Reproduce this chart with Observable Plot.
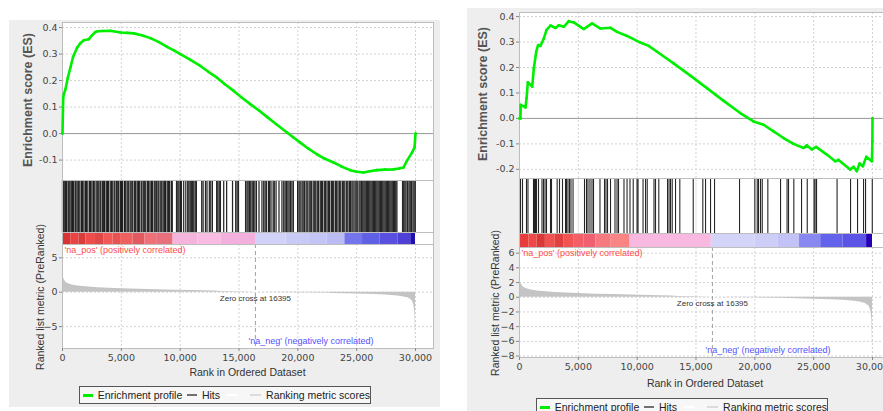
<!DOCTYPE html>
<html>
<head>
<meta charset="utf-8">
<script src="https://cdn.jsdelivr.net/npm/d3@7"></script>
<script src="https://cdn.jsdelivr.net/npm/@observablehq/plot@0.6"></script>
<style>
html, body { margin: 0; padding: 0; background: #ffffff; }
#root { position: relative; width: 883px; height: 411px; overflow: hidden; background: #ffffff; font-family: "Liberation Sans", Arial, sans-serif; }
.bg { position: absolute; background: #eeeeee; }
.lbl { position: absolute; white-space: nowrap; transform: translate(-50%, -50%); color: #333; }
.legend { position: absolute; height: 18px; border: 1px solid #555; background: #f7f7f7; display: flex; align-items: center; font-size: 10.5px; color: #222; white-space: nowrap; box-sizing: border-box; }
.sw { display: inline-block; height: 3px; }
</style>
</head>
<body>
<div id="root"></div>
<script>
// ---------------- data ----------------
const xTicks = [0, 5000, 10000, 15000, 20000, 25000, 30000];
const zeroCross = 16395;
const esTicksLeft = [-0.1, 0, 0.1, 0.2, 0.3, 0.4];
const esTicksRight = [-0.2, -0.1, 0, 0.1, 0.2, 0.3, 0.4];
const metricTicksLeft = [-5, 0, 5];
const metricTicksRight = [-8, -6, -4, -2, 0, 2, 4, 6];

const leftEsRank  = [0, 60, 120, 250, 450, 680, 900, 1250, 1500, 1810, 2240, 2500, 2800, 3000, 3400, 4080, 4920, 5500, 6060, 6800, 7470, 8200, 8890, 9500, 10020, 10800, 11720, 12400, 13130, 13800, 14550, 15200, 15960, 16700, 17380, 18200, 19080, 19600, 20210, 20900, 21620, 22300, 23040, 23700, 24450, 25000, 25580, 26100, 26720, 27400, 28130, 28600, 28980, 29270, 29700, 29920, 30000];
const leftEsValue = [0, 0.136, 0.15, 0.167, 0.21, 0.25, 0.29, 0.325, 0.34, 0.352, 0.356, 0.37, 0.383, 0.386, 0.387, 0.388, 0.381, 0.38, 0.378, 0.37, 0.36, 0.345, 0.327, 0.313, 0.30, 0.28, 0.255, 0.233, 0.211, 0.186, 0.161, 0.137, 0.111, 0.087, 0.063, 0.034, 0.004, -0.014, -0.034, -0.057, -0.078, -0.095, -0.109, -0.124, -0.138, -0.144, -0.147, -0.142, -0.138, -0.136, -0.135, -0.132, -0.128, -0.103, -0.072, -0.053, 0.0];

const rightEsRank  = [0, 85, 100, 510, 600, 710, 1080, 1220, 1420, 1580, 1780, 2070, 2290, 2630, 3060, 3340, 3760, 4190, 4610, 5460, 6170, 6880, 7730, 8290, 9140, 10270, 10980, 11690, 13100, 14520, 15930, 17350, 18760, 19890, 20740, 21590, 22440, 23290, 24140, 24420, 24850, 25210, 26120, 26830, 27110, 28100, 28390, 28670, 28900, 29180, 29470, 29950, 29990, 30000];
const rightEsValue = [0, 0.0, 0.053, 0.043, 0.079, 0.142, 0.125, 0.197, 0.262, 0.288, 0.285, 0.314, 0.347, 0.365, 0.355, 0.366, 0.36, 0.382, 0.377, 0.351, 0.373, 0.353, 0.356, 0.34, 0.324, 0.298, 0.285, 0.262, 0.216, 0.168, 0.119, 0.069, 0.021, -0.012, -0.025, -0.051, -0.077, -0.1, -0.116, -0.106, -0.122, -0.112, -0.142, -0.168, -0.163, -0.201, -0.19, -0.207, -0.177, -0.188, -0.151, -0.168, -0.09, 0.0];

const leftHits = [0,60,150,260,350,480,560,650,780,860,950,1080,1160,1300,1380,1480,1620,1700,1820,1950,2030,2150,2300,2380,2500,2620,2700,2850,2950,3040,3180,3260,3400,3500,3580,3720,3820,3900,4050,4150,4230,4380,4460,4600,4700,4780,4920,5020,5100,5260,5340,5480,5570,5650,5800,5900,5980,6130,6220,6350,6450,6530,6680,6760,6900,6990,7080,7230,7320,7440,7560,7640,7790,7880,8000,8120,8200,8350,8440,8560,8680,8760,8900,9000,9100,9250,9330,
  9690,9800,9900,10020,10110,10300,10480,10640,10740,10850,10950,11060,11160,11280,11380,
  11830,11950,12150,12280,12480,12600,12740,13100,13200,13320,13420,13700,13950,14450,14720,14840,14950,
  15560,15680,15780,15900,16000,16120,16230,16350,16480,16700,16950,
  17100,17220,17330,17500,17600,17720,17900,18000,18150,18400,18650,
  18800,18920,19030,19150,19260,19380,19500,19620,
  19980,20100,20200,20350,20450,20560,20700,20800,20950,21050,21150,21300,21400,21520,21650,21750,21900,22000,22100,22250,22350,22480,22600,22700,22850,22950,23050,23200,23300,23420,23550,23650,23800,23900,24000,
  24150,24250,24380,24480,24600,24700,24850,24950,25050,25200,25300,25420,
  25520,25620,25720,25820,25920,26020,26120,26220,26320,26420,26520,26620,26720,26820,26920,27020,27120,27220,27320,27420,27520,27620,27720,27820,27920,28020,28120,28220,28320,28420,
  28900,29000,29100,29200,29330,29450,29550,29650,29780,29880,29980];

const rightHits = [85,255,595,720,1190,1275,1360,1445,1615,1910,2040,2170,2295,2635,2720,3200,3400,3655,3910,3995,4120,4250,4375,4550,5525,5695,5820,5990,6160,6290,6840,7225,7350,7480,7735,8115,8290,8415,8880,9140,9390,9665,9990,10075,10500,10710,10855,11430,11560,11840,12580,12710,12835,12980,13260,13625,14765,15580,15810,16235,16575,18700,20000,20205,20315,20485,20630,21105,22185,22740,22865,23315,23970,24455,25035,25120,25245,26990,28135,28730,29240,29410,29980];

const leftBarStart = [0, 700, 1400, 2000, 2800, 3500, 4300, 5000, 6000, 7000, 8000, 9400, 11500, 13500, 16400, 19000, 21000, 22500, 24000, 25500, 27000, 28500, 29600];
const leftBarColor = ["#d83434", "#e84444", "#d83c3c", "#f04c4c", "#e04848", "#f25858", "#e85252", "#f06060", "#e05a60", "#f07078", "#e8707c", "#f4b4dc", "#f8bce2", "#f4b0dc", "#d2d2f8", "#cacaf6", "#c4c4f6", "#bcbcf4", "#7474ec", "#6060e4", "#5a50e0", "#5040d8", "#2010b0"];

const rightBarStart = [0, 800, 1500, 2200, 3000, 3800, 4600, 5500, 6500, 7800, 9400, 16300, 20000, 22000, 23800, 25600, 27500, 29500];
const rightBarColor = ["#e83c3c", "#f04848", "#d83838", "#f05050", "#e04040", "#f25454", "#f45e66", "#f06070", "#f47a80", "#f88484", "#f8b8e0", "#d4d4f8", "#cdcdf8", "#c2c2f6", "#8888f0", "#6262ea", "#5c54e6", "#2400b8"];

const metricRank  = [0, 50, 150, 300, 600, 1000, 1500, 2000, 3000, 4000, 5000, 6500, 8000, 9500, 11000, 13000, 13500, 15000, 16395, 18000, 20000, 22500, 23000, 25000, 26500, 27500, 28500, 29000, 29400, 29700, 29850, 29950, 29990, 30000];
const metricValue = [3.0, 2.3, 1.8, 1.4, 1.15, 0.98, 0.86, 0.78, 0.66, 0.58, 0.5, 0.42, 0.36, 0.3, 0.25, 0.18, 0.1, 0.06, 0, -0.04, -0.08, -0.12, -0.18, -0.26, -0.34, -0.42, -0.55, -0.68, -0.85, -1.2, -1.8, -3.0, -6.0, -8.15];

const legendLabels = ["Enrichment profile", "Hits", "", "Ranking metric scores"];
const legendColors = ["#00ee00", "#707070", "#ffffff", "#dcdcdc"];

// ---------------- drawing ----------------
const root = document.getElementById("root");
const xMax = 31530;
const grid = {stroke: "#d2d2d2", strokeOpacity: 1, strokeDasharray: "2,2"};
const tickFont = {fontSize: 9.5, fontFamily: "DejaVu Sans, sans-serif", fill: "#444", stroke: "#888"};

function put(el, left, top) {
  el.style.position = "absolute";
  el.style.left = left + "px";
  el.style.top = top + "px";
  root.appendChild(el);
  return el;
}
function label(txt, cx, cy, css, rot) {
  const d = document.createElement("div");
  d.className = "lbl";
  d.textContent = txt;
  d.style.left = cx + "px";
  d.style.top = cy + "px";
  Object.assign(d.style, css);
  if (rot) d.style.transform = "translate(-50%, -50%) rotate(-90deg)";
  root.appendChild(d);
}
function bg(l, t, w, h) {
  const d = document.createElement("div");
  d.className = "bg";
  Object.assign(d.style, {left: l + "px", top: t + "px", width: w + "px", height: h + "px"});
  root.appendChild(d);
}
function legend(left, top) {
  const d = document.createElement("div");
  d.className = "legend";
  d.style.left = left + "px";
  d.style.top = top + "px";
  d.style.width = "292px";
  d.style.paddingLeft = "3px";
  legendLabels.forEach((t, i) => {
    const s = document.createElement("span");
    s.className = "sw";
    s.style.background = legendColors[i];
    s.style.width = i === 3 ? "13px" : "11px";
    s.style.height = i === 0 ? "3px" : "2px";
    s.style.marginLeft = i === 0 ? "0px" : (i === 2 ? "7px" : (i === 3 ? "8px" : "5px"));
    s.style.marginRight = "5px";
    d.appendChild(s);
    if (t) { const tx = document.createElement("span"); tx.textContent = t; d.appendChild(tx); }
  });
  root.appendChild(d);
}

function panel(p) {
  const common = {width: p.width, marginLeft: p.mL, marginRight: p.mR,
    style: {background: "transparent", overflow: "visible"}};
  const esData = p.esRank.map((r, i) => ({r, v: p.esValue[i]}));
  // ES plot
  const es = Plot.plot({
    ...common, height: p.esBottom, marginTop: p.esTop, marginBottom: 0,
    x: {domain: [0, xMax], axis: null},
    y: {domain: p.esDomain},
    marks: [
      Plot.frame({fill: "white"}),
      Plot.gridX(xTicks.slice(1), grid),
      Plot.gridY(p.esTicks, grid),
      Plot.ruleY([0], {stroke: "#9a9a9a"}),
      Plot.frame({stroke: "#bdbdbd"}),
      Plot.axisY(p.esTicks, {...tickFont, label: null, tickSize: 3, tickPadding: 2, tickFormat: d => d.toFixed(1)}),
      Plot.line(esData, {x: "r", y: "v", stroke: "#00ee00", strokeWidth: 2.6}),
      Plot.dot(esData, {x: "r", y: "v", r: 1.3, fill: "#00ee00"})
    ]
  });
  put(es, p.svgLeft, 0);

  // Hits strip
  const hits = Plot.plot({
    ...common, height: p.hitsH, marginTop: 0, marginBottom: 0,
    x: {domain: [0, xMax], axis: null},
    marks: [
      Plot.frame({fill: "white"}),
      Plot.gridX(xTicks.slice(1), {stroke: "#e0e0e0", strokeOpacity: 1}),
      Plot.ruleX(p.hits, {stroke: "#000", strokeWidth: p.hitW, strokeOpacity: p.hitO}),
      Plot.frame({stroke: "#bdbdbd"})
    ]
  });
  put(hits, p.svgLeft, p.esBottom);

  // Colour bar
  const bins = p.barStart.map((s, i) => ({x1: s, x2: i + 1 < p.barStart.length ? p.barStart[i + 1] : 30000, c: p.barColor[i]}));
  const bar = Plot.plot({
    ...common, height: p.barH, marginTop: 0, marginBottom: 0,
    x: {domain: [0, xMax], axis: null},
    y: {domain: [0, 1], axis: null},
    color: {type: "identity"},
    marks: [
      Plot.frame({fill: "white"}),
      Plot.rectY(bins, {x1: "x1", x2: "x2", y1: 0, y2: 1, fill: "c"}),
      Plot.frame({stroke: "#bdbdbd"})
    ]
  });
  put(bar, p.svgLeft, p.esBottom + p.hitsH);

  // Ranked metric
  const mData = metricRank.map((r, i) => ({r, v: metricValue[i]}));
  const met = Plot.plot({
    ...common, height: p.metH + 30, marginTop: 0, marginBottom: 30,
    x: {domain: [0, xMax]},
    y: {domain: p.metDomain},
    marks: [
      Plot.frame({fill: "white"}),
      Plot.gridX(xTicks.slice(1), grid),
      Plot.gridY(p.metTicks, grid),
      Plot.areaY(mData, {x: "r", y: "v", fill: "#c4c4c4"}),
      Plot.ruleX([zeroCross], {stroke: "#a0a0a0", strokeDasharray: "4,3"}),
      Plot.text([zeroCross], {x: d => d, y: 0, text: d => "Zero cross at " + d, dy: 6, fontSize: 8, fill: "#333", fontFamily: "Liberation Sans, Arial, sans-serif"}),
      Plot.text(["'na_pos' (positively correlated)"], {frameAnchor: "top-left", text: d => d, dx: 2, dy: 6, lineAnchor: "middle", fontSize: 9, fill: "#ff4a4a", fontFamily: "Liberation Sans, Arial, sans-serif"}),
      Plot.text(["'na_neg' (negatively correlated)"], {x: () => zeroCross, frameAnchor: "bottom", text: d => d, textAnchor: "start", dx: -7, dy: -7, lineAnchor: "middle", fontSize: 9, fill: "#5252ff", fontFamily: "Liberation Sans, Arial, sans-serif"}),
      Plot.frame({stroke: "#bdbdbd"}),
      Plot.axisX(xTicks, {...tickFont, label: null, tickSize: 3, tickPadding: 3, tickFormat: d3.format(",")}),
      Plot.axisY(p.metTicks, {...tickFont, label: null, tickSize: 3, tickPadding: 2})
    ]
  });
  put(met, p.svgLeft, p.esBottom + p.hitsH + p.barH);
}

// Left panel
bg(9, 20, 431, 387);
panel({svgLeft: 0, width: 440, mL: 62, mR: 7,
  esTop: 22, esBottom: 180, esDomain: [-0.177, 0.419], esTicks: esTicksLeft, esRank: leftEsRank, esValue: leftEsValue,
  hitsH: 52, hits: leftHits, hitW: 1.25, hitO: 0.85,
  barH: 12, barStart: leftBarStart, barColor: leftBarColor,
  metH: 104, metDomain: [-8.18, 6.93], metTicks: metricTicksLeft});
label("Enrichment score (ES)", 28, 100, {fontSize: "12.5px", fontWeight: "bold", color: "#555"}, true);
label("Ranked list metric (PreRanked)", 40, 297, {fontSize: "10.5px", color: "#333"}, true);
label("Rank in Ordered Dataset", 247.5, 372, {fontSize: "10.5px", color: "#333"}, false);
legend(79, 386);

// Right panel
bg(467, 8, 416, 403);
panel({svgLeft: 440, width: 450, mL: 79, mR: 0,
  esTop: 12, esBottom: 178, esDomain: [-0.236, 0.416], esTicks: esTicksRight, esRank: rightEsRank, esValue: rightEsValue,
  hitsH: 55, hits: rightHits, hitW: 1.1, hitO: 0.85,
  barH: 14, barStart: rightBarStart, barColor: rightBarColor,
  metH: 110, metDomain: [-8.2, 6.77], metTicks: metricTicksRight});
label("Enrichment score (ES)", 483, 94, {fontSize: "12.5px", fontWeight: "bold", color: "#555"}, true);
label("Ranked list metric (PreRanked)", 495, 303, {fontSize: "10.5px", color: "#333"}, true);
label("Rank in Ordered Dataset", 705, 383, {fontSize: "10.5px", color: "#333"}, false);
legend(536, 398);
</script>
</body>
</html>
